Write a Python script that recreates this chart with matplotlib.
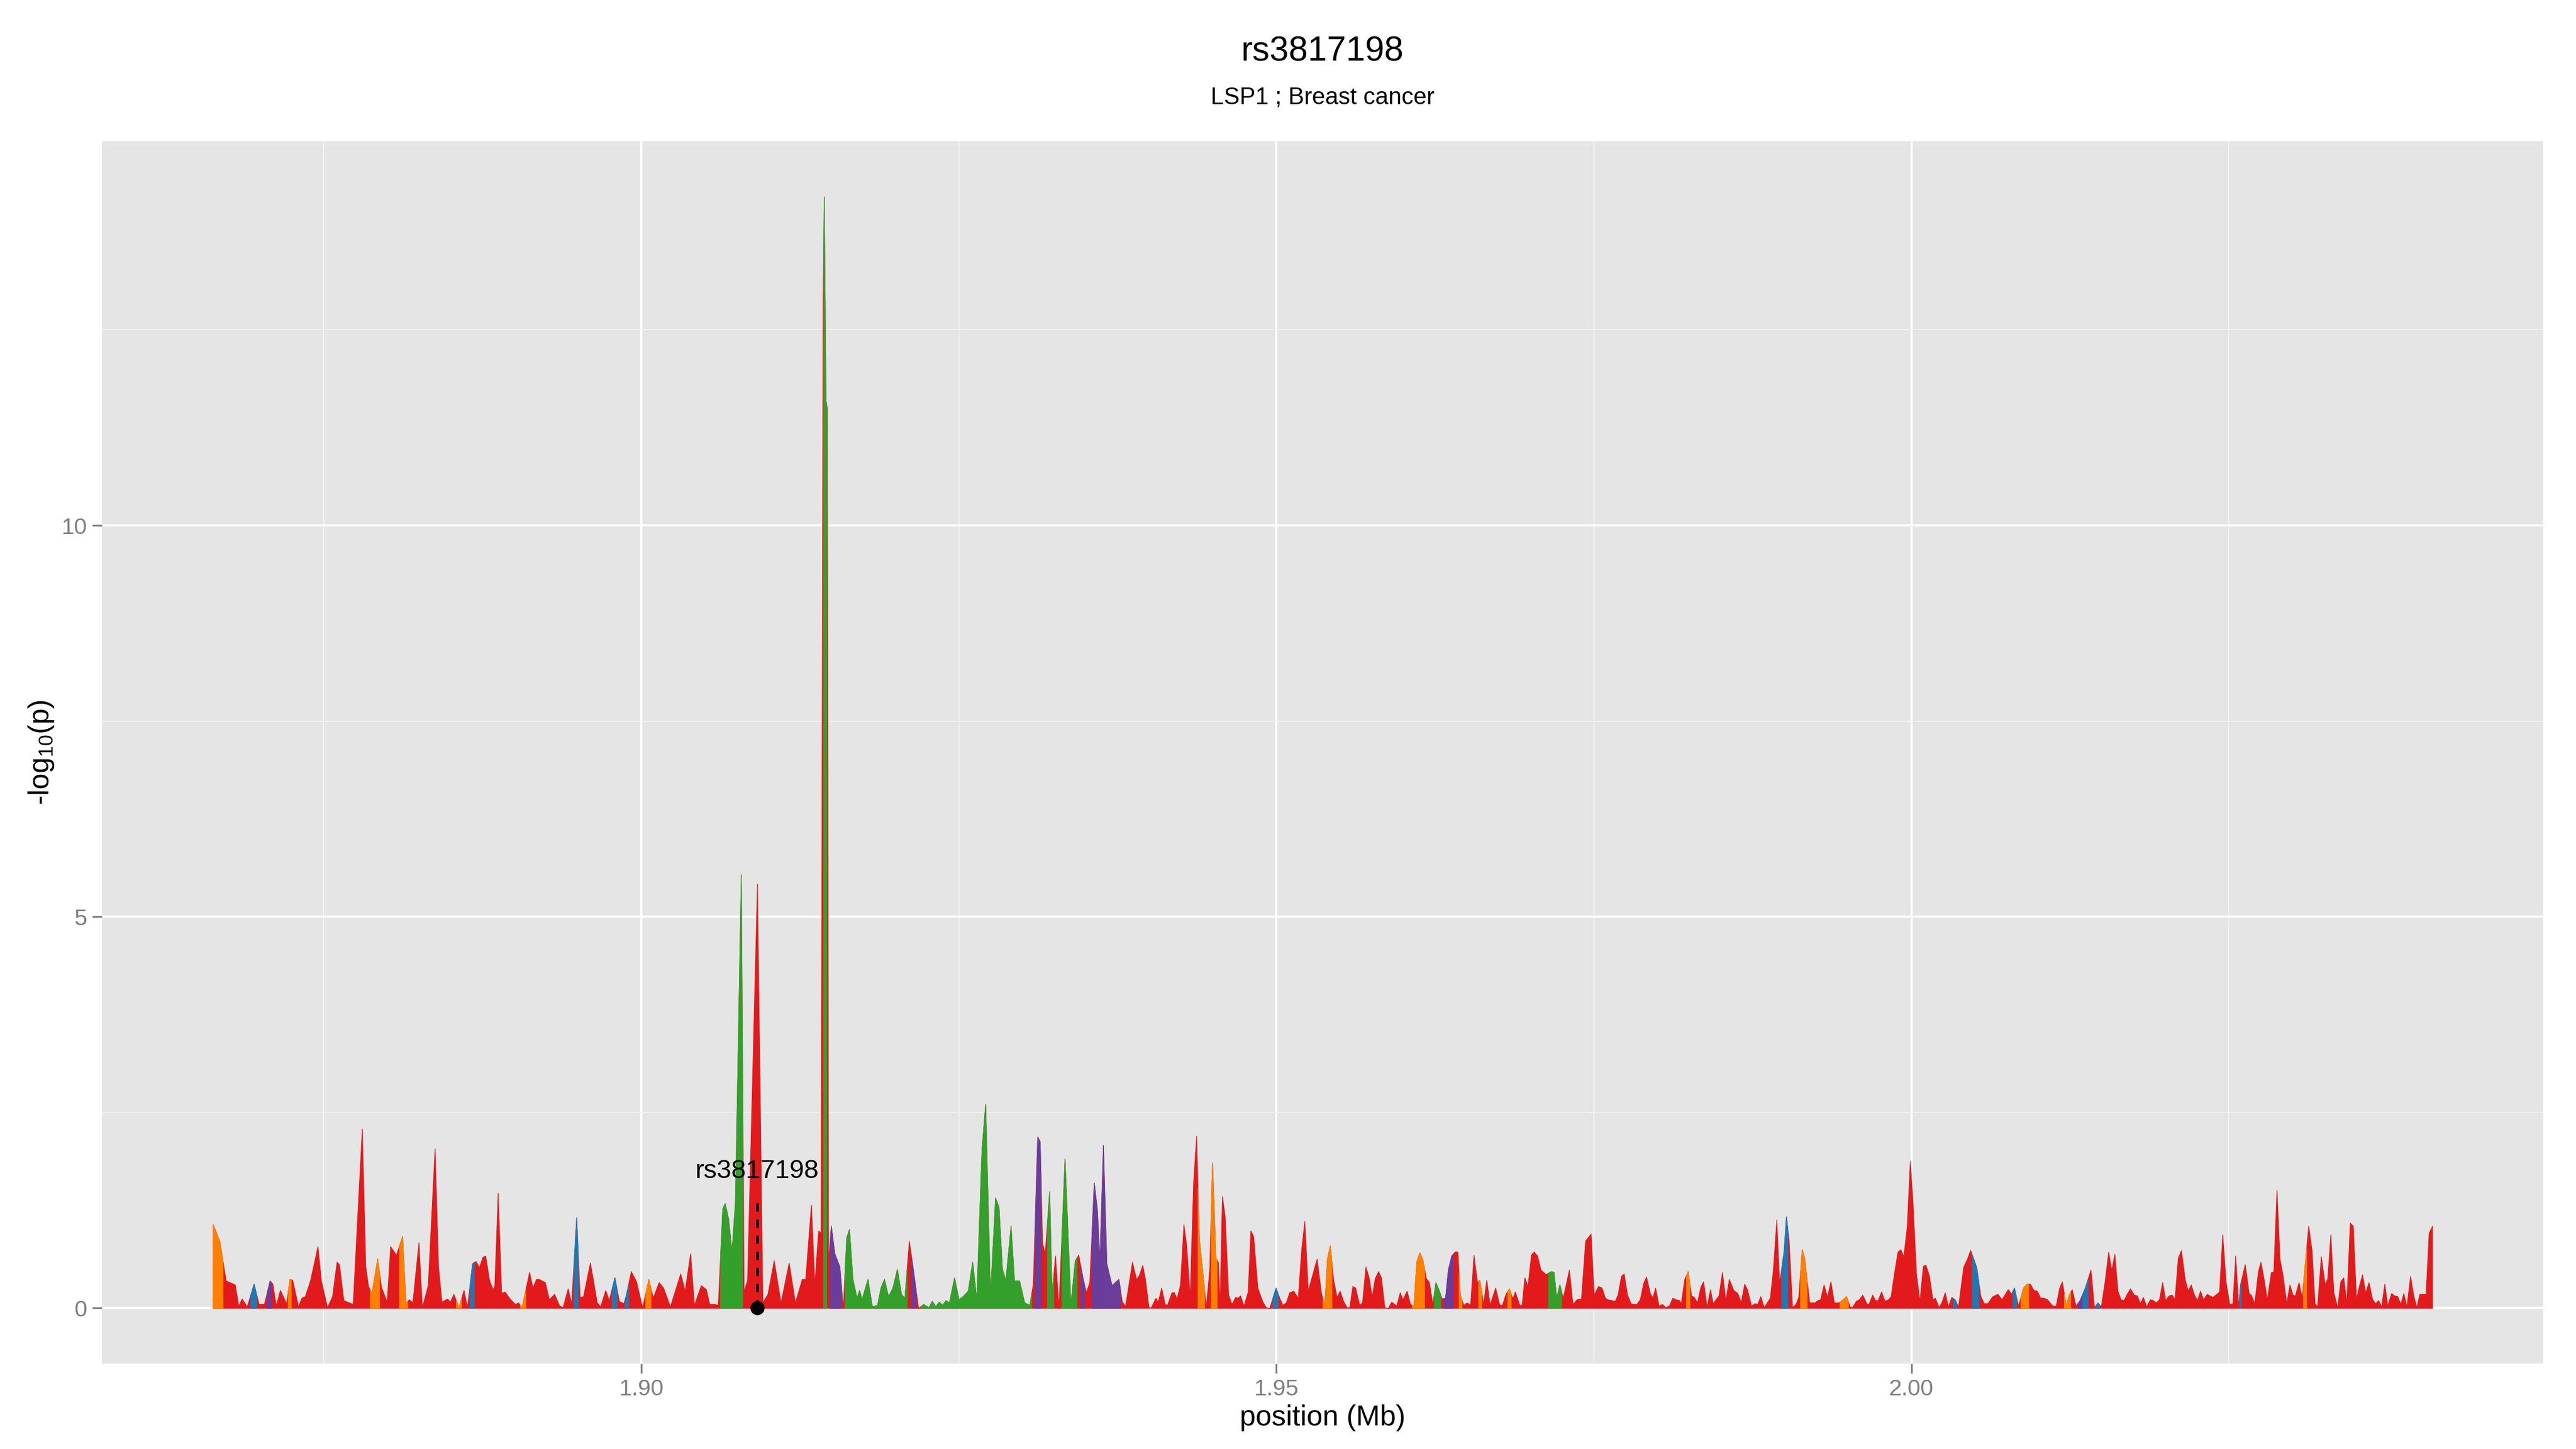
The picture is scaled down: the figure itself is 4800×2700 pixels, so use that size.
import matplotlib.pyplot as plt
import numpy as np

plt.rcParams['font.family'] = ['Liberation Sans', 'DejaVu Sans']
plt.rcParams['mathtext.fontset'] = 'custom'
plt.rcParams['mathtext.rm'] = 'Liberation Sans'
plt.rcParams['mathtext.default'] = 'regular'

# SNP positions (kb), -log10(p) and LD class per SNP
# LD class: r = red, o = orange, g = green, b = blue, p = purple
pos_kb = [
    1866.27, 1866.80, 1867.29, 1868.01, 1868.28, 1868.55, 1868.95, 1869.49, 1869.89, 1870.30,
    1870.75, 1870.97, 1871.24, 1871.56, 1872.05, 1872.31, 1872.53, 1872.99, 1873.25, 1873.52,
    1873.93, 1874.52, 1874.79, 1875.27, 1875.67, 1876.02, 1876.21, 1876.56, 1877.29, 1878.01,
    1878.28, 1878.50, 1878.77, 1879.22, 1879.52, 1879.97, 1880.24, 1880.70, 1881.18, 1881.45,
    1881.72, 1881.99, 1882.47, 1882.74, 1883.20, 1883.74, 1884.01, 1884.28, 1884.73, 1884.95,
    1885.22, 1885.62, 1886.02, 1886.29, 1886.69, 1886.96, 1887.23, 1887.50, 1887.72, 1888.04,
    1888.31, 1888.44, 1888.71, 1888.98, 1889.25, 1889.65, 1890.06, 1890.32, 1890.59, 1891.18,
    1891.45, 1891.72, 1891.94, 1892.42, 1892.74, 1893.15, 1893.55, 1893.82, 1894.22, 1894.49,
    1894.89, 1895.16, 1895.43, 1895.97, 1896.51, 1896.78, 1897.18, 1897.45, 1897.90, 1898.25,
    1898.60, 1898.79, 1899.19, 1899.60, 1900.08,
    1900.57, 1900.92, 1901.38, 1901.73, 1902.27, 1903.08, 1903.43, 1903.86, 1904.16, 1904.70,
    1905.10, 1905.37, 1905.77, 1906.04, 1906.39, 1906.58, 1906.85, 1907.12, 1907.39, 1907.85,
    1908.07, 1908.34, 1909.12, 1909.55, 1909.95, 1910.44, 1910.98, 1911.62, 1912.11, 1912.65,
    1912.92, 1913.37, 1913.64, 1913.94, 1914.13, 1914.29, 1914.38, 1914.52, 1914.62, 1914.72,
    1914.94, 1915.21, 1915.61, 1915.88, 1916.15, 1916.37, 1916.64, 1916.96, 1917.17, 1917.36,
    1917.82, 1918.17, 1918.58, 1918.85, 1919.12, 1919.44, 1919.79, 1920.14, 1920.46, 1920.73,
    1921.08, 1921.41, 1921.81, 1922.21, 1922.62, 1922.89, 1923.16, 1923.43, 1923.70, 1923.97,
    1924.24, 1924.64, 1924.99, 1925.31, 1925.72, 1926.07, 1926.39, 1926.80, 1927.09, 1927.47,
    1927.87, 1928.14, 1928.41, 1928.68, 1929.09, 1929.36, 1929.76, 1930.16, 1930.57, 1930.84,
    1931.19, 1931.38, 1931.57, 1931.78, 1932.13, 1932.32, 1932.59, 1932.86, 1933.34, 1933.80,
    1934.15, 1934.42, 1934.75, 1935.02, 1935.29, 1935.64, 1935.88, 1936.09, 1936.36, 1936.63,
    1937.04, 1937.58, 1937.85,
    1938.11, 1938.65, 1938.97, 1939.19, 1939.46, 1939.68, 1939.95, 1940.14, 1940.49, 1940.68,
    1940.95, 1941.22, 1941.41, 1941.76, 1941.95, 1942.16, 1942.43, 1942.70, 1942.92, 1943.19,
    1943.46, 1943.70, 1943.92, 1944.19, 1944.46, 1944.73, 1944.95, 1945.22, 1945.41, 1945.54,
    1945.73, 1945.95, 1946.22, 1946.49, 1946.76, 1946.97, 1947.16, 1947.43, 1947.76, 1947.97,
    1948.19, 1948.52, 1948.92, 1949.19, 1949.46, 1949.95, 1950.27, 1950.49, 1950.76, 1951.03,
    1951.35, 1951.70, 1951.97, 1952.22, 1952.49, 1952.76, 1953.19, 1953.52, 1953.79, 1954.00,
    1954.22, 1954.49, 1954.76, 1955.00, 1955.27, 1955.54, 1955.76, 1956.00, 1956.22, 1956.54,
    1956.76, 1957.03, 1957.30, 1957.52, 1957.76, 1958.03, 1958.25, 1958.52, 1958.79, 1959.06,
    1959.46, 1959.73, 1959.95, 1960.27, 1960.54, 1960.81, 1961.03, 1961.27, 1961.51, 1961.79,
    1962.03, 1962.30, 1962.54, 1962.84, 1963.03, 1963.30, 1963.52, 1963.79, 1964.06, 1964.27,
    1964.46, 1964.73, 1965.00, 1965.27, 1965.54, 1965.81, 1966.00, 1966.30, 1966.54, 1966.81,
    1967.24, 1967.57, 1967.78, 1968.06, 1968.33, 1968.60, 1968.79, 1969.14, 1969.33, 1969.54,
    1969.79, 1970.06, 1970.27, 1970.54, 1970.81, 1971.22, 1971.62, 1971.84, 1972.05, 1972.30,
    1972.57, 1973.05, 1973.33, 1973.65, 1974.00, 1974.33, 1974.76, 1975.00, 1975.35, 1975.62,
    1975.89, 1976.08,
    1976.66, 1976.88, 1977.15, 1977.36, 1977.63, 1977.90, 1978.17, 1978.36, 1978.63, 1978.90,
    1979.12, 1979.44, 1979.63, 1979.84, 1980.11, 1980.38, 1980.65, 1980.92, 1981.19, 1981.46,
    1981.73, 1981.86, 1982.13, 1982.40, 1982.67, 1982.89, 1983.13, 1983.40, 1983.62, 1983.89,
    1984.16, 1984.37, 1984.83, 1985.10, 1985.37, 1985.64, 1985.99, 1986.31, 1986.58, 1986.85,
    1987.07, 1987.39, 1987.66, 1987.87, 1988.12, 1988.39, 1988.87, 1989.11, 1989.38, 1989.60,
    1989.95, 1990.14, 1990.35, 1990.62, 1990.89, 1991.11, 1991.38, 1991.57, 1991.97, 1992.38,
    1992.64, 1992.83, 1993.10, 1993.37, 1993.64, 1993.91, 1994.26, 1994.45, 1994.88, 1995.15,
    1995.34, 1995.64, 1995.88, 1996.15, 1996.47, 1996.63, 1996.93, 1997.15, 1997.36, 1997.63,
    1997.90, 1998.17, 1998.38, 1998.65, 1998.92, 1999.14, 1999.38, 1999.65, 1999.89, 2000.11,
    2000.38, 2000.65, 2000.92, 2001.13, 2001.40, 2001.67, 2001.86, 2002.16, 2002.37, 2002.64,
    2002.89, 2003.16, 2003.42, 2003.69, 2004.10, 2004.37, 2004.64, 2004.91, 2005.12, 2005.45,
    2005.72, 2005.99, 2006.39, 2006.79, 2007.12, 2007.60, 2007.87, 2008.09, 2008.41, 2008.81,
    2009.08, 2009.35, 2009.62, 2009.89, 2010.16, 2010.43, 2010.70, 2011.11, 2011.38, 2011.64,
    2011.86, 2012.18, 2012.40, 2012.64, 2012.94, 2013.26, 2013.67, 2014.12, 2014.39, 2014.66,
    2014.93,
    2015.22, 2015.51, 2015.75, 2016.00, 2016.24, 2016.48, 2016.72, 2016.97, 2017.23, 2017.52,
    2017.77, 2018.01, 2018.25, 2018.50, 2018.79, 2019.03, 2019.27, 2019.51, 2019.76, 2020.00,
    2020.27, 2020.51, 2020.73, 2020.99, 2021.24, 2021.53, 2021.77, 2022.01, 2022.26, 2022.50,
    2022.74, 2022.98, 2023.27, 2023.71, 2024.03, 2024.24, 2024.49, 2024.75, 2025.04, 2025.29,
    2025.51, 2025.75, 2025.89, 2026.02, 2026.26, 2026.57, 2026.74, 2027.01, 2027.30, 2027.50,
    2027.74, 2028.00, 2028.32, 2028.51, 2028.76, 2029.00, 2029.24, 2029.53, 2029.78, 2030.02,
    2030.21, 2030.50, 2030.75, 2030.94, 2031.26, 2031.52, 2031.76, 2031.96, 2032.25, 2032.56,
    2032.76, 2033.00, 2033.24, 2033.54, 2033.78, 2034.02, 2034.26, 2034.53, 2034.77, 2035.02,
    2035.26, 2035.50, 2035.74, 2036.01, 2036.28, 2036.52, 2036.76, 2037.00, 2037.25, 2037.49,
    2037.78, 2038.02, 2038.27, 2038.51, 2038.75, 2038.99, 2039.28, 2039.53, 2039.77, 2040.01,
    2040.21, 2040.50, 2040.74, 2041.01,
]

logp = [
    1.07, 0.85, 0.35, 0.30, 0.03, 0.12, 0.02, 0.31, 0.05, 0.05,
    0.35, 0.31, 0.03, 0.23, 0.06, 0.37, 0.36, 0.02, 0.13, 0.15,
    0.35, 0.79, 0.35, 0.01, 0.15, 0.59, 0.56, 0.10, 0.05, 2.29,
    0.54, 0.28, 0.19, 0.63, 0.27, 0.08, 0.79, 0.68, 0.92, 0.07,
    0.11, 0.07, 0.84, 0.01, 0.29, 2.04, 0.54, 0.08, 0.12, 0.08,
    0.18, 0.01, 0.23, 0.01, 0.57, 0.60, 0.52, 0.65, 0.67, 0.35,
    0.24, 0.28, 1.47, 0.19, 0.21, 0.12, 0.05, 0.07, 0.01, 0.46,
    0.26, 0.37, 0.37, 0.33, 0.11, 0.18, 0.03, 0.01, 0.25, 0.06,
    1.16, 0.14, 0.15, 0.58, 0.07, 0.02, 0.23, 0.10, 0.39, 0.09,
    0.06, 0.16, 0.47, 0.34, 0.01,
    0.37, 0.13, 0.33, 0.26, 0.02, 0.44, 0.22, 0.70, 0.04, 0.29,
    0.24, 0.05, 0.05, 0.04, 1.27, 1.34, 1.14, 0.72, 1.36, 5.54,
    0.22, 0.35, 5.42, 0.07, 0.18, 0.61, 0.07, 0.58, 0.07, 0.37,
    0.37, 1.32, 0.31, 0.99, 0.96, 12.9, 14.2, 11.6, 11.5, 0.60,
    1.05, 0.70, 0.53, 0.00, 0.90, 1.01, 0.37, 0.13, 0.23, 0.11,
    0.37, 0.02, 0.04, 0.26, 0.37, 0.15, 0.26, 0.50, 0.18, 0.13,
    0.86, 0.48, 0.00, 0.05, 0.01, 0.09, 0.02, 0.08, 0.04, 0.10,
    0.07, 0.39, 0.11, 0.15, 0.22, 0.59, 0.11, 2.02, 2.61, 0.15,
    1.41, 1.29, 0.50, 0.35, 1.05, 0.35, 0.35, 0.07, 0.04, 0.31,
    2.19, 2.13, 0.83, 0.70, 1.49, 0.18, 0.67, 0.00, 1.91, 0.04,
    0.61, 0.68, 0.39, 0.20, 0.33, 1.60, 1.27, 0.61, 2.08, 0.57,
    0.29, 0.37, 0.08,
    0.03, 0.59, 0.37, 0.42, 0.55, 0.36, 0.01, 0.01, 0.13, 0.08,
    0.26, 0.05, 0.04, 0.20, 0.20, 0.12, 0.30, 1.07, 0.80, 0.14,
    1.60, 2.20, 0.88, 0.46, 0.01, 0.49, 1.86, 0.64, 0.59, 0.04,
    1.43, 1.17, 0.17, 0.05, 0.14, 0.13, 0.16, 0.03, 0.21, 0.99,
    0.92, 0.26, 0.08, 0.01, 0.00, 0.26, 0.12, 0.04, 0.07, 0.20,
    0.22, 0.13, 0.75, 1.11, 0.22, 0.38, 0.63, 0.20, 0.03, 0.63,
    0.80, 0.36, 0.14, 0.22, 0.09, 0.01, 0.01, 0.28, 0.26, 0.04,
    0.07, 0.53, 0.38, 0.14, 0.38, 0.47, 0.39, 0.01, 0.00, 0.08,
    0.03, 0.20, 0.11, 0.22, 0.05, 0.03, 0.59, 0.71, 0.62, 0.38,
    0.33, 0.05, 0.33, 0.21, 0.12, 0.13, 0.49, 0.67, 0.72, 0.72,
    0.17, 0.04, 0.07, 0.04, 0.68, 0.33, 0.36, 0.05, 0.36, 0.04,
    0.26, 0.04, 0.04, 0.18, 0.25, 0.12, 0.21, 0.04, 0.04, 0.39,
    0.28, 0.68, 0.72, 0.67, 0.49, 0.43, 0.47, 0.46, 0.13, 0.30,
    0.13, 0.49, 0.05, 0.11, 0.12, 0.86, 0.95, 0.17, 0.28, 0.26,
    0.13, 0.11,
    0.09, 0.17, 0.41, 0.44, 0.17, 0.06, 0.05, 0.05, 0.11, 0.32,
    0.40, 0.18, 0.14, 0.26, 0.03, 0.05, 0.01, 0.03, 0.13, 0.11,
    0.10, 0.06, 0.37, 0.47, 0.16, 0.14, 0.07, 0.27, 0.34, 0.01,
    0.24, 0.06, 0.16, 0.46, 0.10, 0.37, 0.23, 0.19, 0.07, 0.31,
    0.24, 0.03, 0.06, 0.05, 0.15, 0.01, 0.13, 0.49, 1.13, 0.32,
    0.72, 1.17, 0.86, 0.01, 0.05, 0.14, 0.75, 0.64, 0.07, 0.07,
    0.10, 0.11, 0.30, 0.14, 0.34, 0.07, 0.07, 0.09, 0.15, 0.02,
    0.01, 0.09, 0.11, 0.17, 0.06, 0.05, 0.17, 0.10, 0.10, 0.21,
    0.09, 0.11, 0.15, 0.45, 0.72, 0.75, 0.66, 1.04, 1.88, 1.33,
    0.43, 0.09, 0.54, 0.55, 0.41, 0.11, 0.13, 0.01, 0.07, 0.20,
    0.02, 0.14, 0.11, 0.02, 0.53, 0.62, 0.74, 0.62, 0.52, 0.15,
    0.06, 0.06, 0.15, 0.18, 0.11, 0.24, 0.18, 0.26, 0.03, 0.26,
    0.31, 0.31, 0.23, 0.22, 0.13, 0.13, 0.11, 0.03, 0.03, 0.25,
    0.34, 0.03, 0.17, 0.24, 0.03, 0.10, 0.26, 0.49, 0.01, 0.07,
    0.02,
    0.33, 0.72, 0.48, 0.69, 0.22, 0.11, 0.10, 0.18, 0.25, 0.17,
    0.16, 0.06, 0.14, 0.02, 0.11, 0.10, 0.07, 0.11, 0.33, 0.10,
    0.16, 0.17, 0.11, 0.64, 0.74, 0.37, 0.22, 0.30, 0.17, 0.10,
    0.22, 0.11, 0.18, 0.14, 0.18, 0.21, 0.94, 0.34, 0.05, 0.06,
    0.67, 0.02, 0.30, 0.39, 0.56, 0.19, 0.17, 0.06, 0.47, 0.59,
    0.38, 0.11, 0.46, 0.46, 1.51, 0.63, 0.42, 0.06, 0.30, 0.17,
    0.16, 0.33, 0.13, 0.49, 1.05, 0.74, 0.06, 0.02, 0.66, 0.30,
    0.38, 0.94, 0.20, 0.01, 0.34, 0.39, 0.06, 1.09, 1.05, 0.11,
    0.29, 0.43, 0.20, 0.33, 0.12, 0.06, 0.10, 0.02, 0.31, 0.03,
    0.19, 0.16, 0.15, 0.05, 0.19, 0.02, 0.41, 0.16, 0.01, 0.18,
    0.18, 0.18, 0.96, 1.05,
]

ld = list(
    "oorrrrrbrr" "prrrrorrrr" "rrrrrrrrrr" "rroorrrroo" "rrrrrrrrrr"
    "rorrbrrrrr" "rrrrrrrror" "rrrrrrrrrr" "brrrrrrrbr" "rbrrr"
    "orrrrrrrrr" "rrrrgggggg" "rrrrrrrrrr" "rrrrrrggrr" "ppprgggggg"
    "gggggggggg" "rprggggggg" "gggggggggg" "gggggggggr" "pprrggrrgg"
    "grprrppppp" "ppr"
    "rrrrrrrrrr" "rrrrrrrrrr" "rroorroorr" "rrrrrrrrrr" "rrrrrbrrrr"
    "rrrrrrrroo" "orrrrrrrrr" "rrrrrrrrrr" "rrrrroooor" "rrggrppprr"
    "orrrrrorrr" "rrrrorrrrr" "rrrrrrgggg" "rrrrrrrrrr" "rr"
    "rrrrrrrrrr" "rrrrrrrrrr" "rrrorrrrrr" "rrrrrrrrrr" "rrrrrrrrrr"
    "bbrrrroorr" "rrrrrrroor" "rrrrrrrrrr" "rrrrrrrrrr" "rrrrrrrrrr"
    "rrbrrrrbbr" "rrrrrrrbro" "orrrrrrrrr" "roorrpbrrb" "r"
    "rrrrrrrrrr" "rrrrrrrrrr" "rrrrrrrrrr" "rrrrrrrrrr" "rrbrrrrrrr"
    "rrrrrrrrrr" "rrrorrrrrr" "rrrrrrrrrr" "rrrrrrrrrr" "rrrrrrrrrr"
    "rrrr"
)

ld_colors = {'r': '#E31A1C', 'o': '#FF7F00', 'g': '#33A02C',
             'b': '#1F78B4', 'p': '#6A3D9A'}

snp_name = 'rs3817198'
snp_kb = 1909.12

x_ticks = [1.90, 1.95, 2.00]
y_ticks = [0, 5, 10]

assert len(pos_kb) == len(logp) == len(ld)

x = np.array(pos_kb) / 1000.0
y = np.array(logp)

fig = plt.figure(figsize=(16, 9), dpi=300)
ax = fig.add_axes([190 / 4800, 1 - 2541 / 2700, (4739 - 190) / 4800, (2541 - 263) / 2700])
ax.set_facecolor('#E5E5E5')

# base area in red, then the other LD classes on top
ax.fill_between(x, y, 0, facecolor=ld_colors['r'], edgecolor=ld_colors['r'], lw=0.3, zorder=2)
n = len(x)
for i, c in enumerate(ld):
    if c == 'r':
        continue
    xl = (x[i - 1] + x[i]) / 2 if i > 0 else x[i]
    xr = (x[i] + x[i + 1]) / 2 if i < n - 1 else x[i]
    xs = np.array([xl, x[i], xr])
    ax.fill_between(xs, np.interp(xs, x, y), 0, facecolor=ld_colors[c],
                    edgecolor=ld_colors[c], lw=0.3, zorder=3)

# highlighted SNP
sx = snp_kb / 1000.0
ax.plot([sx, sx], [0, 1.41], color='black', lw=1.2, ls=(0, (3, 3)), zorder=4)
ax.plot([sx], [0], 'o', color='black', ms=5.3, zorder=5)
ax.text(sx, 1.75, snp_name, ha='center', va='center', fontsize=11.7, color='black', zorder=5)

# limits with ggplot-like 5% expansion
xr_ = x.max() - x.min()
ax.set_xlim(x.min() - 0.05 * xr_, x.max() + 0.05 * xr_)
ax.set_ylim(-0.05 * y.max(), 1.05 * y.max())

ax.set_xticks(x_ticks)
ax.set_xticklabels(['%.2f' % t for t in x_ticks])
ax.set_xticks([1.875, 1.925, 1.975, 2.025], minor=True)
ax.set_yticks(y_ticks)
ax.set_yticklabels([str(t) for t in y_ticks])
ax.set_yticks([2.5, 7.5, 12.5], minor=True)

ax.grid(which='major', color='white', lw=1.0, zorder=0)
ax.grid(which='minor', color='#F2F2F2', lw=0.5, zorder=0)
ax.set_axisbelow(True)
for s in ax.spines.values():
    s.set_visible(False)

ax.tick_params(which='major', length=4.25, width=0.8, color='#7F7F7F',
               labelcolor='#7F7F7F', labelsize=10.3, pad=2.5)
ax.tick_params(which='minor', length=0)

fig.text(2464 / 4800, 1 - 2642 / 2700, 'position (Mb)', ha='center', va='center', fontsize=12.8)
fig.text(77 / 4800, 1 - 1402 / 2700, '-log$_{10}$(p)', ha='center', va='center',
         rotation=90, fontsize=12.8)
fig.text(2464 / 4800, 1 - 97 / 2700, 'rs3817198', ha='center', va='center', fontsize=15.4)
fig.text(2464 / 4800, 1 - 182 / 2700, 'LSP1 ; Breast cancer', ha='center', va='center', fontsize=10.6)

fig.savefig('out.png', dpi=300)
